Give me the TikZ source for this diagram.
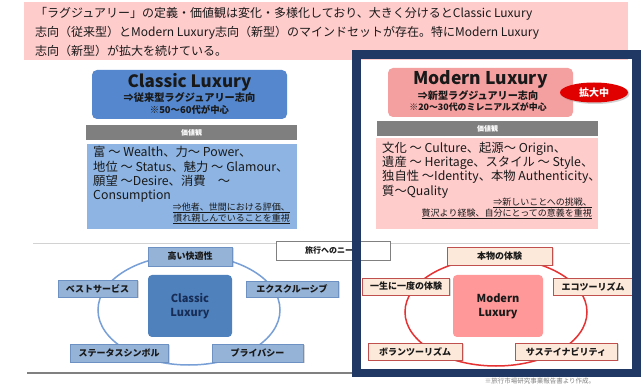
\documentclass[tikz,border=0pt]{standalone}
\usepackage{fontspec}
\setmainfont{Noto Sans CJK JP}
\usetikzlibrary{shadows,shapes.geometric}
\definecolor{navyframe}{RGB}{31,56,100}
\definecolor{bannerpink}{RGB}{255,204,204}
\definecolor{cltitle}{RGB}{84,135,205}
\definecolor{clcontent}{RGB}{141,180,226}
\definecolor{clcenter}{RGB}{79,129,189}
\definecolor{clsat}{RGB}{149,179,215}
\definecolor{clsatline}{RGB}{110,145,195}
\definecolor{clellipse}{RGB}{120,160,215}
\definecolor{cltext}{RGB}{23,45,85}
\definecolor{mdtitle}{RGB}{245,160,160}
\definecolor{mdcontent}{RGB}{255,204,204}
\definecolor{mdcenter}{RGB}{255,153,153}
\definecolor{mdsat}{RGB}{253,233,217}
\definecolor{mdsatline}{RGB}{192,80,77}
\definecolor{mdellipse}{RGB}{230,50,50}
\definecolor{graybar}{RGB}{127,127,127}
\definecolor{badgered}{RGB}{225,0,0}
\definecolor{textdark}{RGB}{25,25,25}
\tikzset{
  panel/.style={inner sep=0pt, outer sep=0pt},
  titlebox/.style={panel, rounded corners=5pt},
  bannertext/.style={inner sep=0pt, anchor=west, font=\fontsize{12}{14}\selectfont, text=textdark},
  graybox/.style={panel, fill=graybar, text=white, font=\fontsize{7}{8}\selectfont\bfseries},
  bodytext/.style={inner sep=0pt, align=left, text=textdark, font=\fontsize{12.3}{14.4}\selectfont},
  notetext/.style={inner sep=0pt, align=right, text=textdark, font=\fontsize{9}{11}\selectfont},
  clsatbox/.style={panel, draw=clsatline, line width=0.8pt, fill=clsat, text=textdark,
    font=\fontsize{9}{10}\selectfont\bfseries,
    drop shadow={shadow xshift=1.5pt, shadow yshift=-1.5pt, opacity=0.3}},
  mdsatbox/.style={panel, draw=mdsatline, line width=0.8pt, fill=mdsat, text=textdark,
    font=\fontsize{9}{10}\selectfont\bfseries,
    drop shadow={shadow xshift=1.5pt, shadow yshift=-1.5pt, opacity=0.3}},
  centerbox/.style={panel, rounded corners=4pt, align=center, font=\fontsize{11}{14}\selectfont\bfseries},
}
\begin{document}
\begin{tikzpicture}[x=1pt,y=-1pt]
\useasboundingbox (0,0) rectangle (641,385);
\fill[white] (0,0) rectangle (641,385);

% banner
\fill[bannerpink] (24,2) rectangle (628,60);
\node[bannertext] (b1) at (35,14)
  {「ラグジュアリー」の定義・価値観は変化・多様化しており、大きく分けるとClassic Luxury};
\node[bannertext] (b2) at (35,33)
  {志向（従来型）とModern Luxury志向（新型）のマインドセットが存在。特にModern Luxury};
\node[bannertext] (b3) at (35,51)
  {志向（新型）が拡大を続けている。};

% ---------- Classic upper ----------
\node[titlebox, fill=cltitle, minimum width=195pt, minimum height=49pt] (ctitle) at (189.5,94.5) {};
\node[inner sep=0pt, text=textdark, font=\fontsize{17}{20}\selectfont\bfseries] (ct1) at (189.5,82) {Classic Luxury};
\node[inner sep=0pt, text=textdark, font=\fontsize{10.2}{12}\selectfont\bfseries] (ct2) at (189.5,97.5) {⇒従来型ラグジュアリー志向};
\node[inner sep=0pt, text=textdark, font=\fontsize{9.4}{11}\selectfont\bfseries] (ct3) at (189.5,109.5) {※50〜60代が中心};

\node[graybox, minimum width=211pt, minimum height=15pt] (cgray) at (191.5,132.5) {価値観};
\node[panel, fill=clcontent, minimum width=210pt, minimum height=85pt] (cbody) at (192,186.5) {};
\node[bodytext, anchor=west] (ctext) at (93,174.5)
  {富 〜 Wealth、力〜 Power、\\地位 〜 Status、魅力 〜 Glamour、\\願望 〜Desire、消費　〜\\Consumption};
\node[notetext, anchor=east] (cnote) at (290,213.5)
  {\underline{⇒他者、世間における評価、}\\\underline{慣れ親しんでいることを重視}};

% ---------- Modern upper ----------
\node[titlebox, fill=mdtitle, minimum width=185pt, minimum height=49pt] (mtitle) at (480.5,92.5) {};
\node[inner sep=0pt, text=textdark, font=\fontsize{17.5}{20}\selectfont\bfseries] (mt1) at (480.5,79.5) {Modern Luxury};
\node[inner sep=0pt, text=textdark, font=\fontsize{10.1}{12}\selectfont\bfseries] (mt2) at (478,95.5) {⇒新型ラグジュアリー志向};
\node[inner sep=0pt, text=textdark, font=\fontsize{8.9}{11}\selectfont\bfseries] (mt3) at (478,107.5) {※20〜30代のミレニアルズが中心};
\node[ellipse, inner sep=0pt, fill=badgered, text=white,
  minimum width=68pt, minimum height=20pt, font=\fontsize{10}{12}\selectfont\bfseries,
  drop shadow={shadow xshift=1.5pt, shadow yshift=-1.5pt, opacity=0.35}] (badge) at (594,92.5) {拡大中};

\node[graybox, minimum width=221pt, minimum height=15pt] (mgray) at (487.5,128.5) {価値観};
\node[panel, fill=mdcontent, minimum width=222pt, minimum height=91pt] (mbody) at (487,183.5) {};
\node[bodytext, anchor=west] (mtext) at (382,170)
  {文化 〜 Culture、起源〜 Origin、\\遺産 〜 Heritage、スタイル 〜 Style、\\独自性 〜Identity、本物 Authenticity、\\質〜Quality};
\node[notetext, anchor=east] (mnote) at (592,208.5)
  {\underline{⇒新しいことへの挑戦、}\\\underline{贅沢より経験、自分にとっての意義を重視}};

% ---------- separators ----------
\draw[gray!35, line width=1pt] (33,244) -- (630,244);
\draw[gray, line width=1.2pt] (27,373) -- (356,373);
\node[panel, draw=gray, line width=0.8pt, fill=white, minimum width=114pt, minimum height=19pt,
  text=textdark, font=\fontsize{8}{10}\selectfont\bfseries] (needs) at (333,250.5) {旅行へのニーズ};

% ---------- Classic lower ----------
\draw[clellipse, line width=1.5pt] (189,310) ellipse [x radius=91, y radius=55];
\node[centerbox, fill=clcenter, text=cltext, minimum width=84pt, minimum height=62pt] (ccenter) at (190,306) {Classic\\Luxury};
\node[clsatbox, minimum width=84pt, minimum height=19pt] (cs1) at (190,256.5) {高い快適性};
\node[clsatbox, minimum width=79pt, minimum height=17pt] (cs2) at (97.5,288.5) {ベストサービス};
\node[clsatbox, minimum width=92pt, minimum height=16pt] (cs3) at (292,289) {エクスクルーシブ};
\node[clsatbox, minimum width=98pt, minimum height=18pt] (cs4) at (119,353) {ステータスシンボル};
\node[clsatbox, minimum width=91pt, minimum height=18pt] (cs5) at (257.5,353) {プライバシー};

% ---------- Modern lower ----------
\draw[mdellipse, line width=1.5pt] (496,312) ellipse [x radius=91, y radius=54];
\node[centerbox, fill=mdcenter, text=textdark, minimum width=90pt, minimum height=62pt] (mcenter) at (498,306) {Modern\\Luxury};
\node[mdsatbox, minimum width=105pt, minimum height=18pt] (ms1) at (499.5,256) {本物の体験};
\node[mdsatbox, minimum width=87pt, minimum height=17pt] (ms2) at (406,286.5) {一生に一度の体験};
\node[mdsatbox, minimum width=80pt, minimum height=17pt] (ms3) at (593,286.5) {エコツーリズム};
\node[mdsatbox, minimum width=94pt, minimum height=17pt] (ms4) at (415,351.5) {ボランツーリズム};
\node[mdsatbox, minimum width=102pt, minimum height=17pt] (ms5) at (566,351.5) {サステイナビリティ};

% ---------- frame ----------
\draw[navyframe, line width=8.5pt] (356.5,54.5) rectangle (636.5,373);

\node[inner sep=0pt, text=gray, font=\fontsize{6.5}{8}\selectfont] (source) at (540,381) {※旅行市場研究事業報告書より作成。};
\end{tikzpicture}
\end{document}
